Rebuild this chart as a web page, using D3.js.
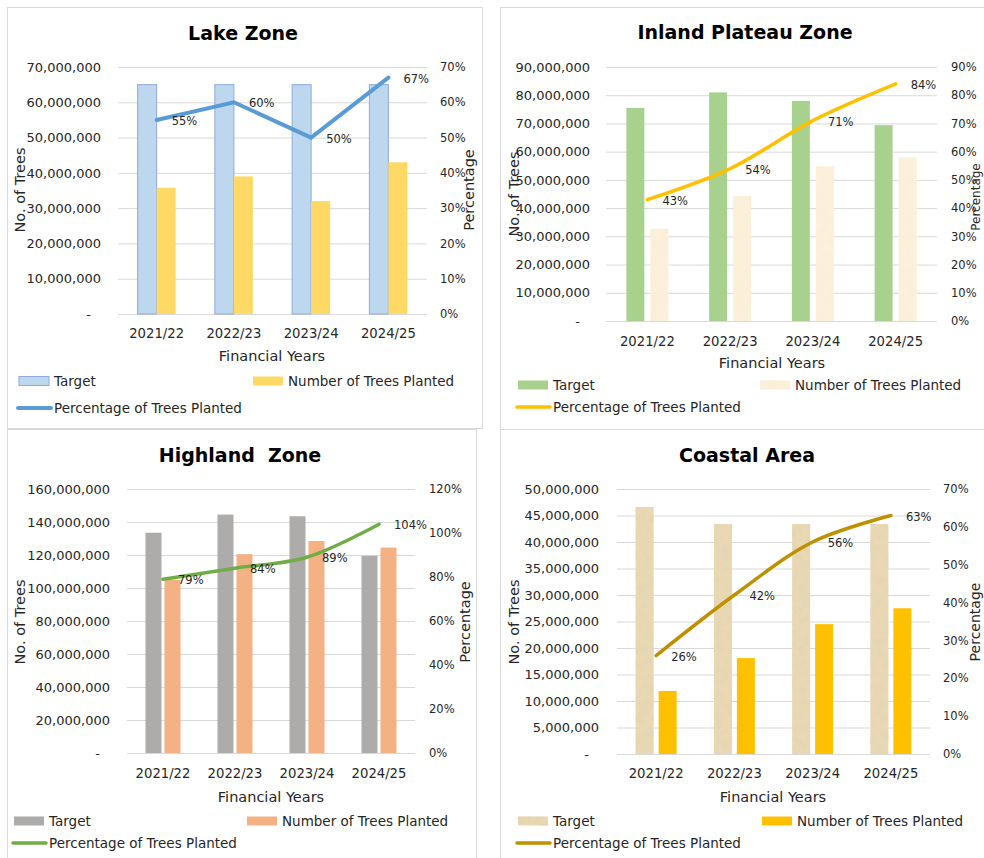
<!DOCTYPE html>
<html>
<head>
<meta charset="utf-8">
<script src="https://cdn.jsdelivr.net/npm/d3@7"></script>
<style>
body { margin: 0; background: #fff; }
text { font-family: "DejaVu Sans", Tahoma, sans-serif; fill: #262626; }
</style>
</head>
<body>
<script>
// categories
let years = ["2021/22", "2022/23", "2023/24", "2024/25"];

// lake zone
let lakeTarget = [65000000, 65000000, 65000000, 65000000];
let lakePlanted = [35800000, 39000000, 32000000, 43000000];
let lakePct = [0.55, 0.60, 0.50, 0.67];
let lakeCountTicks = [0, 10000000, 20000000, 30000000, 40000000, 50000000, 60000000, 70000000];
let lakePctTicks = [0, 0.1, 0.2, 0.3, 0.4, 0.5, 0.6, 0.7];

// inland plateau zone
let inlandTarget = [75500000, 81000000, 78000000, 69400000];
let inlandPlanted = [32700000, 44300000, 54800000, 58000000];
let inlandPct = [0.43, 0.54, 0.71, 0.84];
let inlandCountTicks = [0, 10000000, 20000000, 30000000, 40000000, 50000000, 60000000, 70000000, 80000000, 90000000];
let inlandPctTicks = [0, 0.1, 0.2, 0.3, 0.4, 0.5, 0.6, 0.7, 0.8, 0.9];

// highland zone
let highlandTarget = [133500000, 144500000, 143500000, 119500000];
let highlandPlanted = [105000000, 120500000, 128500000, 124500000];
let highlandPct = [0.79, 0.84, 0.89, 1.04];
let highlandCountTicks = [0, 20000000, 40000000, 60000000, 80000000, 100000000, 120000000, 140000000, 160000000];
let highlandPctTicks = [0, 0.2, 0.4, 0.6, 0.8, 1.0, 1.2];

// coastal area
let coastalTarget = [46600000, 43400000, 43400000, 43400000];
let coastalPlanted = [11900000, 18100000, 24500000, 27500000];
let coastalPct = [0.26, 0.42, 0.56, 0.63];
let coastalCountTicks = [0, 5000000, 10000000, 15000000, 20000000, 25000000, 30000000, 35000000, 40000000, 45000000, 50000000];
let coastalPctTicks = [0, 0.1, 0.2, 0.3, 0.4, 0.5, 0.6, 0.7];

let seriesNames = ["Target", "Number of Trees Planted", "Percentage of Trees Planted"];

let svg = d3.select("body").append("svg")
	.attr("width", 984)
	.attr("height", 858);

let defs = svg.append("defs");

// paper-like texture made with an svg noise filter
function paperFilter(id, seed, speck, k, c) {
	let f = defs.append("filter").attr("id", id)
		.attr("x", 0).attr("y", 0).attr("width", 1).attr("height", 1);
	f.append("feTurbulence").attr("type", "fractalNoise")
		.attr("baseFrequency", 0.13).attr("numOctaves", 3).attr("seed", seed).attr("result", "noise");
	f.append("feColorMatrix").attr("in", "noise").attr("type", "matrix")
		.attr("values", "0 0 0 0 " + speck[0] + "  0 0 0 0 " + speck[1] + "  0 0 0 0 " + speck[2] + "  " + k + " 0 0 0 " + c)
		.attr("result", "speck");
	f.append("feComposite").attr("in", "speck").attr("in2", "SourceGraphic")
		.attr("operator", "in").attr("result", "clipped");
	let m = f.append("feMerge");
	m.append("feMergeNode").attr("in", "SourceGraphic");
	m.append("feMergeNode").attr("in", "clipped");
}
paperFilter("creamPaper", 3, [0.96, 0.88, 0.74], 1.8, -0.7);
paperFilter("beigePaper", 7, [0.76, 0.66, 0.46], 2.0, -0.75);

let fmtCount = function(d) { return d === 0 ? "-" : d3.format(",")(d); };
let fmtPct = d3.format(".0%");

function drawPanel(p) {
	let g = svg.append("g");

	// panel border
	g.append("rect")
		.attr("x", p.box[0] + 0.5).attr("y", p.box[1] + 0.5)
		.attr("width", p.box[2]).attr("height", p.box[3])
		.attr("fill", "#fff").attr("stroke", "#D9D9D9").attr("stroke-width", 1);

	let x = d3.scaleBand().domain(years).range([p.x0, p.x1]);
	let y = d3.scaleLinear().domain([0, d3.max(p.countTicks)]).range([p.y1, p.y0]);
	let yPct = d3.scaleLinear().domain([0, d3.max(p.pctTicks)]).range([p.y1, p.y0]);
	let cx = function(d, i) { return x(years[i]) + x.bandwidth() / 2; };

	// title
	g.append("text")
		.attr("x", p.title[0]).attr("y", p.title[1])
		.attr("text-anchor", "middle").attr("dominant-baseline", "central")
		.attr("font-size", 19).attr("font-weight", "bold")
		.style("fill", "#000").style("white-space", "pre")
		.text(p.name);

	// gridlines and left axis labels
	let left = g.append("g")
		.attr("transform", "translate(" + p.x0 + ",0)")
		.call(d3.axisLeft(y).tickValues(p.countTicks)
			.tickSize(-(p.x1 - p.x0)).tickPadding(p.x0 - p.leftLabelX).tickFormat(fmtCount));
	left.attr("font-family", null).attr("font-size", null);
	left.select(".domain").remove();
	left.selectAll("line").attr("stroke", "#D9D9D9");
	left.selectAll("text").attr("font-size", 13)
		.attr("dx", function(d) { return d === 0 ? -10 : 0; });

	// right axis labels
	let right = g.append("g")
		.attr("transform", "translate(" + p.x1 + ",0)")
		.call(d3.axisRight(yPct).tickValues(p.pctTicks)
			.tickSize(0).tickPadding(p.rightLabelX - p.x1).tickFormat(fmtPct));
	right.attr("font-family", null).attr("font-size", null);
	right.select(".domain").remove();
	right.selectAll("text").attr("font-size", 11.5);

	// category labels
	let bottom = g.append("g")
		.attr("transform", "translate(0," + p.y1 + ")")
		.call(d3.axisBottom(x).tickSize(0).tickPadding(0));
	bottom.attr("font-family", null).attr("font-size", null);
	bottom.select(".domain").remove();
	bottom.selectAll("text").attr("font-size", 13.2)
		.attr("y", p.yearY - p.y1).attr("dy", "0.35em");

	// bars
	g.selectAll(".target")
		.data(p.target)
		.enter().append("rect")
			.attr("class", "target")
			.attr("x", function(d, i) { return cx(d, i) - p.gap / 2 - p.barW; })
			.attr("y", function(d) { return y(d); })
			.attr("width", p.barW)
			.attr("height", function(d) { return y(0) - y(d); })
			.attr("fill", p.targetFill)
			.attr("stroke", p.targetStroke || "none")
			.attr("filter", p.targetFilter || null);

	g.selectAll(".planted")
		.data(p.planted)
		.enter().append("rect")
			.attr("class", "planted")
			.attr("x", function(d, i) { return cx(d, i) + p.gap / 2; })
			.attr("y", function(d) { return y(d); })
			.attr("width", p.barW)
			.attr("height", function(d) { return y(0) - y(d); })
			.attr("fill", p.plantedFill)
			.attr("filter", p.plantedFilter || null);

	// percentage line
	let valueline = d3.line()
		.curve(p.curve)
		.x(cx)
		.y(function(d) { return yPct(d); });

	g.append("path")
		.datum(p.pct)
		.attr("d", valueline)
		.attr("fill", "none")
		.attr("stroke", p.lineColor)
		.attr("stroke-width", p.lineW)
		.attr("stroke-linecap", "round");

	g.selectAll(".pctlabel")
		.data(p.pct)
		.enter().append("text")
			.attr("class", "pctlabel")
			.attr("x", function(d, i) { return cx(d, i) + 15; })
			.attr("y", function(d) { return yPct(d) + 1; })
			.attr("dominant-baseline", "central")
			.attr("font-size", 11.5)
			.text(fmtPct);

	// axis titles
	g.append("text")
		.attr("transform", "translate(" + p.yTitle[0] + "," + p.yTitle[1] + ") rotate(-90)")
		.attr("text-anchor", "middle").attr("dominant-baseline", "central")
		.attr("font-size", 14.5)
		.text("No. of Trees");

	g.append("text")
		.attr("transform", "translate(" + p.pTitle[0] + "," + p.pTitle[1] + ") rotate(-90)")
		.attr("text-anchor", "middle").attr("dominant-baseline", "central")
		.attr("font-size", p.pTitle[2])
		.text("Percentage");

	g.append("text")
		.attr("x", p.xTitle[0]).attr("y", p.xTitle[1])
		.attr("text-anchor", "middle").attr("dominant-baseline", "central")
		.attr("font-size", 14.5)
		.text("Financial Years");

	// legend
	let lg = p.legend;
	g.append("rect")
		.attr("x", lg.sw1).attr("y", lg.row1 - 4.5).attr("width", 30).attr("height", 9)
		.attr("fill", p.targetFill).attr("stroke", p.targetStroke || "none")
		.attr("filter", p.targetFilter || null);
	g.append("rect")
		.attr("x", lg.sw2).attr("y", lg.row1 - 4.5).attr("width", 30).attr("height", 9)
		.attr("fill", p.plantedFill)
		.attr("filter", p.plantedFilter || null);
	g.append("line")
		.attr("x1", lg.sw1 - 1).attr("x2", lg.sw1 + 32)
		.attr("y1", lg.row2).attr("y2", lg.row2)
		.attr("stroke", p.lineColor).attr("stroke-width", p.lineW)
		.attr("stroke-linecap", "round");

	let legendText = [[lg.sw1 + 35, lg.row1], [lg.sw2 + 35, lg.row1], [lg.sw1 + 35, lg.row2]];
	g.selectAll(".legtext")
		.data(seriesNames)
		.enter().append("text")
			.attr("class", "legtext")
			.attr("x", function(d, i) { return legendText[i][0]; })
			.attr("y", function(d, i) { return legendText[i][1]; })
			.attr("dominant-baseline", "central")
			.attr("font-size", 13.5)
			.text(function(d) { return d; });
}

drawPanel({
	name: "Lake Zone", target: lakeTarget, planted: lakePlanted, pct: lakePct,
	countTicks: lakeCountTicks, pctTicks: lakePctTicks,
	box: [7, 7, 475, 421],
	x0: 118, x1: 427, y0: 67, y1: 314,
	title: [243, 33], leftLabelX: 101, rightLabelX: 440, yearY: 333,
	yTitle: [20, 190], pTitle: [469, 190, 14.5], xTitle: [272, 356],
	barW: 19, gap: 0,
	targetFill: "#BDD7EE", targetStroke: "#8FAADC", plantedFill: "#FFD966",
	lineColor: "#5B9BD5", lineW: 4, curve: d3.curveLinear,
	legend: {sw1: 19, sw2: 253, row1: 381, row2: 408}
});

drawPanel({
	name: "Inland Plateau Zone", target: inlandTarget, planted: inlandPlanted, pct: inlandPct,
	countTicks: inlandCountTicks, pctTicks: inlandPctTicks,
	box: [500, 7, 500, 422],
	x0: 606, x1: 937, y0: 67, y1: 321,
	title: [745, 32], leftLabelX: 590, rightLabelX: 951, yearY: 341,
	yTitle: [514, 194], pTitle: [976, 197, 12], xTitle: [772, 363],
	barW: 18, gap: 6,
	targetFill: "#A9D18E", plantedFill: "#FCEFD8", plantedFilter: "url(#creamPaper)",
	lineColor: "#FFC000", lineW: 3.5, curve: d3.curveCatmullRom,
	legend: {sw1: 518, sw2: 760, row1: 385, row2: 407}
});

drawPanel({
	name: "Highland  Zone", target: highlandTarget, planted: highlandPlanted, pct: highlandPct,
	countTicks: highlandCountTicks, pctTicks: highlandPctTicks,
	box: [7, 429, 469, 500],
	x0: 127, x1: 415, y0: 489, y1: 753,
	title: [240, 455], leftLabelX: 110, rightLabelX: 429, yearY: 773,
	yTitle: [20, 622], pTitle: [465, 622, 14.5], xTitle: [271, 797],
	barW: 16, gap: 3,
	targetFill: "#AEABAB", plantedFill: "#F4B183",
	lineColor: "#70AD47", lineW: 3.5, curve: d3.curveCatmullRom,
	legend: {sw1: 14, sw2: 247, row1: 821, row2: 843}
});

drawPanel({
	name: "Coastal Area", target: coastalTarget, planted: coastalPlanted, pct: coastalPct,
	countTicks: coastalCountTicks, pctTicks: coastalPctTicks,
	box: [500, 429, 500, 500],
	x0: 617, x1: 930, y0: 489, y1: 754,
	title: [747, 455], leftLabelX: 599, rightLabelX: 943, yearY: 773,
	yTitle: [514, 622], pTitle: [975, 622, 14], xTitle: [773, 797],
	barW: 18, gap: 5,
	targetFill: "#E9D8B2", targetFilter: "url(#beigePaper)", plantedFill: "#FFC000",
	lineColor: "#BF9000", lineW: 3.5, curve: d3.curveCatmullRom,
	legend: {sw1: 518, sw2: 762, row1: 821, row2: 843}
});
</script>
</body>
</html>
